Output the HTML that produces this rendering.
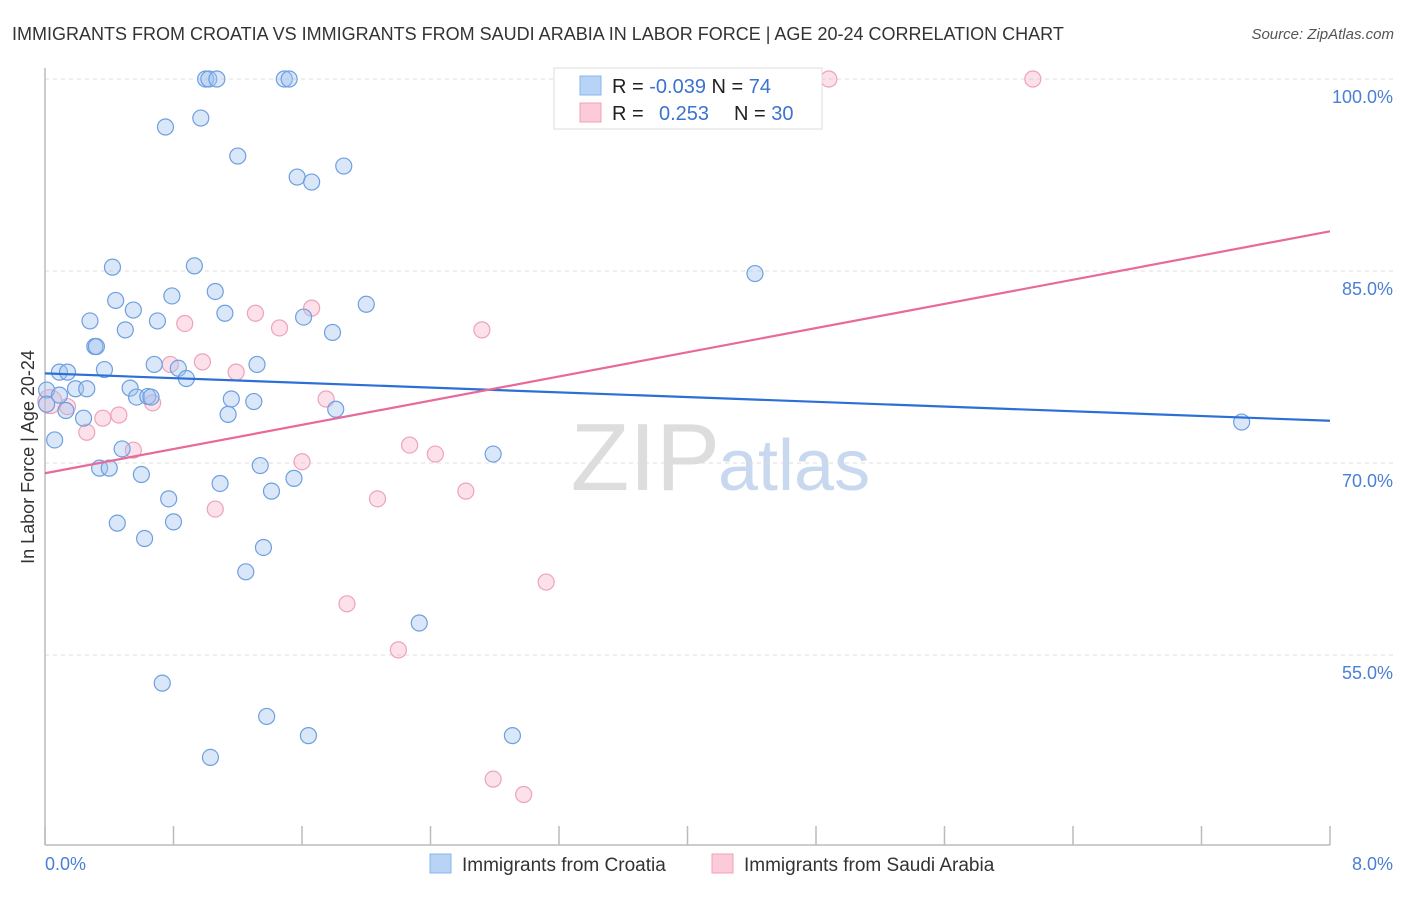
<!DOCTYPE html>
<html><head><meta charset="utf-8"><style>
body{margin:0;background:#fff;font-family:"Liberation Sans",sans-serif;}
svg text{font-family:"Liberation Sans",sans-serif;}
</style></head><body>
<svg id="c" width="1406" height="892" xmlns="http://www.w3.org/2000/svg">
<text x="12" y="40" font-size="18" fill="#333">IMMIGRANTS FROM CROATIA VS IMMIGRANTS FROM SAUDI ARABIA IN LABOR FORCE | AGE 20-24 CORRELATION CHART</text>
<text x="1394" y="39" font-size="15" fill="#555" font-style="italic" text-anchor="end">Source: ZipAtlas.com</text>
<text x="720" y="490" font-size="96" fill="#ddd" text-anchor="end" font-family="Liberation Serif">ZIP</text>
<text x="718" y="490" font-size="72" fill="#c8d8ee">atlas</text>
<g id="grid"></g>
<g id="axes"></g>
<g id="pts"></g>
<g id="trend"></g>
<text transform="translate(34,457) rotate(-90)" font-size="18" fill="#333" text-anchor="middle">In Labor Force | Age 20-24</text>
<text x="45" y="870" font-size="18" fill="#4a7fd4">0.0%</text>
<text x="1393" y="870" font-size="18" fill="#4a7fd4" text-anchor="end">8.0%</text>
<g>
<rect x="554" y="68" width="268" height="61" fill="#fff" stroke="#ddd"/>
<rect x="580" y="76" width="21" height="19" fill="#b7d3f5" stroke="#8ab4ec"/>
<rect x="580" y="103" width="21" height="19" fill="#fccbd9" stroke="#f0a0b8"/>
<text x="612" y="93" font-size="20" fill="#222">R = <tspan fill="#3b73d1">-0.039</tspan>   N = <tspan fill="#3b73d1">74</tspan></text>
<text x="612" y="120" font-size="20" fill="#222">R = <tspan fill="#3b73d1" x="659">0.253</tspan><tspan x="734">N = </tspan><tspan fill="#3b73d1">30</tspan></text>
</g>
<g>
<rect x="430" y="854" width="21" height="19" fill="#b7d3f5" stroke="#8ab4ec"/>
<text x="462" y="871" font-size="19" fill="#333">Immigrants from Croatia</text>
<rect x="712" y="854" width="21" height="19" fill="#fccbd9" stroke="#f0a0b8"/>
<text x="744" y="871" font-size="19" fill="#333">Immigrants from Saudi Arabia</text>
</g>
</svg>
<script>
const yTicks=[100,85,70,55];
const yTickLabels=["100.0%","85.0%","70.0%","55.0%"];
const xTicks=[0,0.8,1.6,2.4,3.2,4.0,4.8,5.6,6.4,7.2,8.0];
const croatiaX=[1.0,1.02,1.07,1.49,1.52,0.75,0.97,1.2,1.57,1.66,1.86,0.42,0.93,0.44,0.79,1.06,0.55,0.28,0.7,1.12,1.61,2.0,0.5,1.79,0.31,0.32,0.37,0.09,0.14,0.68,0.83,0.88,1.32,0.01,0.19,0.26,0.53,0.57,0.64,0.66,1.16,1.3,1.14,1.81,0.24,0.06,0.13,0.48,0.34,0.4,0.6,1.34,1.55,0.77,1.09,1.41,2.79,0.45,0.8,0.62,1.36,1.25,2.33,0.73,1.38,1.64,2.91,1.03,4.42,7.45,0.01,0.09];
const croatiaY=[100,100,100,100,100,96.25,96.95,93.98,92.34,91.95,93.2,85.3,85.4,82.7,83.05,83.4,81.95,81.1,81.1,81.7,81.4,82.4,80.4,80.2,79.1,79.1,77.3,77.1,77.1,77.7,77.4,76.6,77.7,75.7,75.8,75.8,75.85,75.15,75.2,75.15,75.0,74.8,73.8,74.2,73.5,71.8,74.1,71.1,69.6,69.6,69.1,69.8,68.8,67.2,68.4,67.8,70.7,65.3,65.4,64.1,63.4,61.5,57.5,52.8,50.2,48.7,48.7,47.0,84.8,73.2,74.6,75.3];
const saudiX=[3.63,4.88,6.15,2.72,1.66,1.31,1.46,0.87,0.98,0.78,1.19,1.75,0.67,0.46,0.36,0.14,0.26,0.55,2.27,2.43,1.6,1.06,2.07,2.62,3.12,1.88,2.2,2.79,2.98,0.03];
const saudiY=[100,100,100,80.4,82.1,81.7,80.55,80.9,77.9,77.7,77.1,75.0,74.7,73.75,73.5,74.4,72.4,71.0,71.4,70.7,70.1,66.4,67.2,67.8,60.7,59.0,55.4,45.3,44.1,74.8];
const trendX=[0,8];
const croatiaTrend=[77.0,73.3];
const saudiTrend=[69.2,88.1];
const NS="http://www.w3.org/2000/svg";
const sx=v=>45+v*160.625;
const sy=v=>79+(100-v)*12.8;
function mk(tag,attrs,parent){const e=document.createElementNS(NS,tag);for(const k in attrs)e.setAttribute(k,attrs[k]);parent.appendChild(e);return e;}
const grid=document.getElementById('grid'),axes=document.getElementById('axes'),pts=document.getElementById('pts'),tr=document.getElementById('trend');
yTicks.forEach((t,i)=>{
 const l=mk('line',{x1:45,x2:1395,y1:sy(t),y2:sy(t),stroke:'#ddd','stroke-dasharray':'4,4'},grid);
 
 
 const tx=mk('text',{x:1393,y:sy(t)+24,'font-size':18,fill:'#4a7fd4','text-anchor':'end'},grid);
 tx.textContent=yTickLabels[i];
 
 
});
const ax=mk('line',{x1:45,x2:45,y1:68,y2:845,stroke:'#bbb','stroke-width':1.5},axes);


const bx=mk('line',{x1:45,x2:1330,y1:845,y2:845,stroke:'#bbb','stroke-width':1.5},axes);


xTicks.forEach(t=>{
 const l=mk('line',{x1:sx(t),x2:sx(t),y1:826,y2:845,stroke:'#bbb','stroke-width':1.5},axes);
 
 
});
saudiX.forEach((x,i)=>{
 const c=mk('circle',{cx:sx(x),cy:sy(saudiY[i]),r:i==saudiX.length-1?12:8,fill:'rgba(248,170,195,0.35)',stroke:'#eea2ba','stroke-width':1.2},pts);
 
 
});
croatiaX.forEach((x,i)=>{
 const c=mk('circle',{cx:sx(x),cy:sy(croatiaY[i]),r:8,fill:'rgba(160,196,240,0.4)',stroke:'#6e9fe0','stroke-width':1.2},pts);
 
 
});
const t1=mk('line',{x1:sx(trendX[0]),x2:sx(trendX[1]),y1:sy(croatiaTrend[0]),y2:sy(croatiaTrend[1]),stroke:'#2c6fd6','stroke-width':2.2},tr);


const t2=mk('line',{x1:sx(trendX[0]),x2:sx(trendX[1]),y1:sy(saudiTrend[0]),y2:sy(saudiTrend[1]),stroke:'#e8699a','stroke-width':2.2},tr);


</script>
</body></html>
